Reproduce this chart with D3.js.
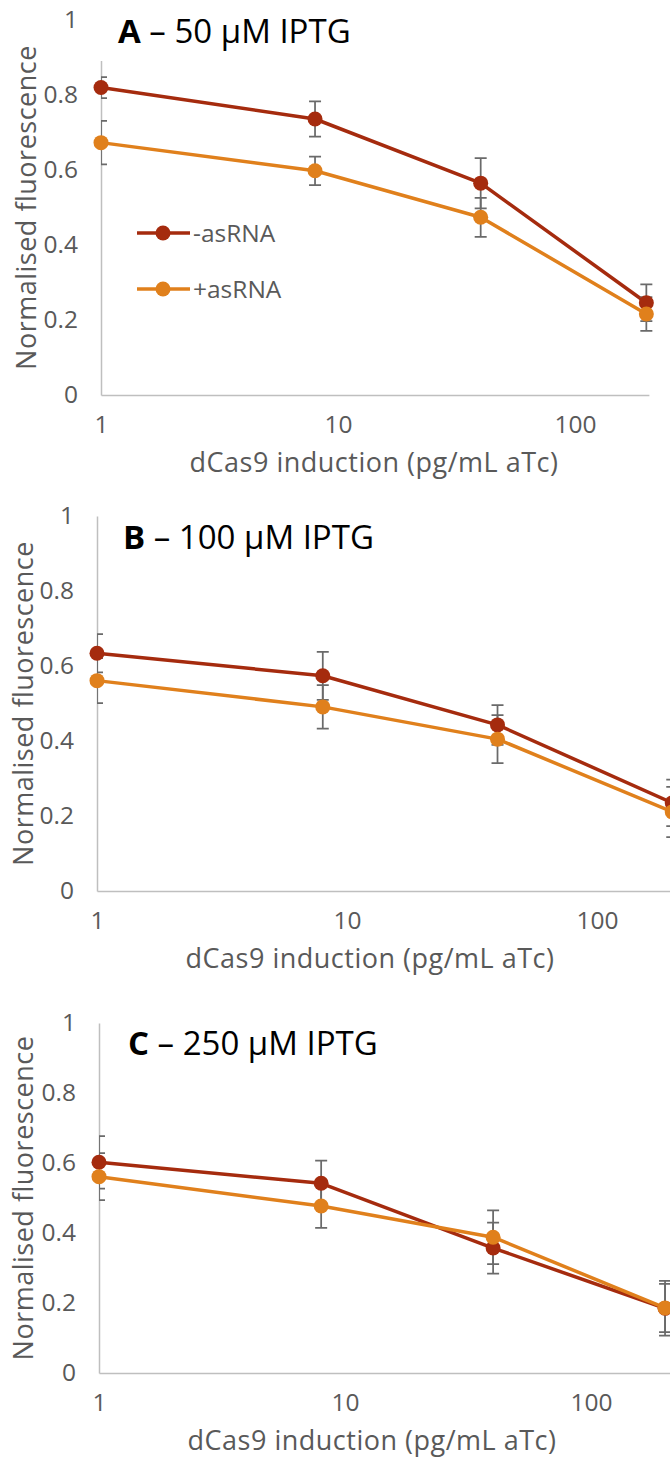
<!DOCTYPE html>
<html>
<head>
<meta charset="utf-8">
<script src="https://cdn.jsdelivr.net/npm/d3@7"></script>
<style>
  html, body { margin: 0; padding: 0; background: #fff; }
  svg { display: block; }
  .tick text { fill: #595959; font-family: "Open Sans", sans-serif; font-size: 24.5px; }
  .axis-title { fill: #595959; font-family: "Open Sans", sans-serif; font-size: 27px; letter-spacing: 0.5px; }
  .legend text { fill: #595959; font-family: "Open Sans", sans-serif; font-size: 24.5px; }
  .panel-title { fill: #000; font-family: "Open Sans", sans-serif; font-size: 33px; }
</style>
</head>
<body>
<svg id="chart" width="670" height="1458"></svg>
<script>
// aTc concentrations (pg/mL) used to induce dCas9
const aTc = [1, 8, 40, 200];

// Axis ticks
const yTicks = [0, 0.2, 0.4, 0.6, 0.8, 1];
const xTicks = [1, 10, 100];

const seriesNames = ["-asRNA", "+asRNA"];
const seriesColors = ["#A52B0E", "#E0801C"];

const panelLetters = ["A", "B", "C"];
const panelConditions = [" \u2013 50 \u00B5M IPTG", " \u2013 100 \u00B5M IPTG", " \u2013 250 \u00B5M IPTG"];

// Normalised fluorescence (mean) and error, 50 µM IPTG
const minusA = [0.820, 0.736, 0.565, 0.246];
const minusAErr = [0.028, 0.047, 0.067, 0.049];
const plusA = [0.673, 0.598, 0.474, 0.216];
const plusAErr = [0.058, 0.038, 0.052, 0.045];

// 100 µM IPTG
const minusB = [0.634, 0.574, 0.443, 0.235];
const minusBErr = [0.051, 0.064, 0.053, 0.062];
const plusB = [0.561, 0.491, 0.405, 0.211];
const plusBErr = [0.060, 0.058, 0.064, 0.067];

// 250 µM IPTG
const minusC = [0.602, 0.542, 0.357, 0.185];
const minusCErr = [0.075, 0.065, 0.073, 0.078];
const plusC = [0.561, 0.477, 0.388, 0.186];
const plusCErr = [0.067, 0.062, 0.077, 0.069];

const panelData = [
  [[minusA, minusAErr], [plusA, plusAErr]],
  [[minusB, minusBErr], [plusB, plusBErr]],
  [[minusC, minusCErr], [plusC, plusCErr]]
];

// Layout of each plot area: left edge, pixels per decade, y of value 1 and 0, x-axis end
const layout = [
  { left: 101, decade: 237, top: 20,   bottom: 395,  xMax: 205,  titleX: 118, titleY: 43,   yTitleX: 36, legend: true },
  { left: 97,  decade: 250, top: 516,  bottom: 891,  xMax: 1000, titleX: 123, titleY: 549,  yTitleX: 33, legend: false },
  { left: 99,  decade: 246, top: 1023, bottom: 1373, xMax: 1000, titleX: 128, titleY: 1055, yTitleX: 33, legend: false }
];

const svg = d3.select("#chart");
const fmt = d => String(+(+d).toFixed(1));

layout.forEach((L, p) => {
  const g = svg.append("g");
  const x = d3.scaleLog().domain([1, L.xMax])
    .range([L.left, L.left + L.decade * Math.log10(L.xMax)]);
  const y = d3.scaleLinear().domain([0, 1]).range([L.bottom, L.top]);

  // Clip for error bars (plot area)
  const clipId = "clip" + p;
  g.append("clipPath").attr("id", clipId).append("rect")
    .attr("x", L.left).attr("y", L.top - 30)
    .attr("width", 1000).attr("height", L.bottom - L.top + 60);

  // Axes
  const xAxis = g.append("g").attr("transform", `translate(0,${L.bottom})`)
    .call(d3.axisBottom(x).tickValues(xTicks).tickFormat(fmt).tickSize(0).tickSizeOuter(0).tickPadding(21));
  const yAxis = g.append("g").attr("transform", `translate(${L.left},0)`)
    .call(d3.axisLeft(y).tickValues(yTicks).tickFormat(fmt).tickSize(0).tickSizeOuter(0).tickPadding(23));
  [xAxis, yAxis].forEach(a => {
    a.attr("font-family", null).attr("font-size", null);
    a.select(".domain").attr("stroke", "#BFBFBF").attr("stroke-width", 1.5);
  });

  // Axis titles
  g.append("text").attr("class", "axis-title")
    .attr("x", L.left + 273).attr("y", L.bottom + 77)
    .attr("text-anchor", "middle")
    .text("dCas9 induction (pg/mL aTc)");
  g.append("text").attr("class", "axis-title")
    .attr("transform", `translate(${L.yTitleX},${(L.top + L.bottom) / 2}) rotate(-90)`)
    .attr("text-anchor", "middle")
    .text("Normalised fluorescence");

  const series = panelData[p].map((s, i) => ({
    name: seriesNames[i],
    color: seriesColors[i],
    points: aTc.map((c, k) => ({ c, v: s[0][k], e: s[1][k] }))
  }));

  const line = d3.line().x(d => x(d.c)).y(d => y(d.v));

  // Lines
  series.forEach(s => {
    g.append("path").datum(s.points)
      .attr("fill", "none").attr("stroke", s.color)
      .attr("stroke-width", 3.5).attr("stroke-linejoin", "round")
      .attr("d", line);
  });

  // Error bars
  const eb = g.append("g").attr("clip-path", `url(#${clipId})`)
    .attr("stroke", "#6A6A6A").attr("stroke-width", 1.75).attr("fill", "none");
  series.forEach(s => {
    s.points.forEach(d => {
      const cx = x(d.c), y0 = y(d.v - d.e), y1 = y(d.v + d.e);
      eb.append("path").attr("d",
        `M${cx},${y0}V${y1}M${cx - 6},${y0}H${cx + 6}M${cx - 6},${y1}H${cx + 6}`);
    });
  });

  // Markers
  series.forEach(s => {
    g.append("g").selectAll("circle").data(s.points).join("circle")
      .attr("cx", d => x(d.c)).attr("cy", d => y(d.v))
      .attr("r", 7.5).attr("fill", s.color);
  });

  // Panel title with white backing
  const title = g.append("text").attr("class", "panel-title")
    .attr("x", L.titleX).attr("y", L.titleY);
  title.append("tspan").attr("font-weight", "bold").text(panelLetters[p]);
  title.append("tspan").text(panelConditions[p]);
  const bb = title.node().getBBox();
  g.insert("rect", "text.panel-title")
    .attr("x", bb.x - 20).attr("y", bb.y - 4)
    .attr("width", bb.width + 30).attr("height", bb.height + 12)
    .attr("fill", "#fff");

  // Legend
  if (L.legend) {
    const lg = g.append("g").attr("class", "legend");
    series.forEach((s, i) => {
      const row = lg.append("g").attr("transform", `translate(137,${233 + i * 56})`);
      row.append("line").attr("x1", 0).attr("x2", 53).attr("y1", 0).attr("y2", 0)
        .attr("stroke", s.color).attr("stroke-width", 3.5);
      row.append("circle").attr("cx", 26).attr("cy", 0).attr("r", 7.5).attr("fill", s.color);
      row.append("text").attr("x", 56).attr("y", 0).attr("dy", "0.35em").text(s.name);
    });
  }
});
</script>
</body>
</html>
